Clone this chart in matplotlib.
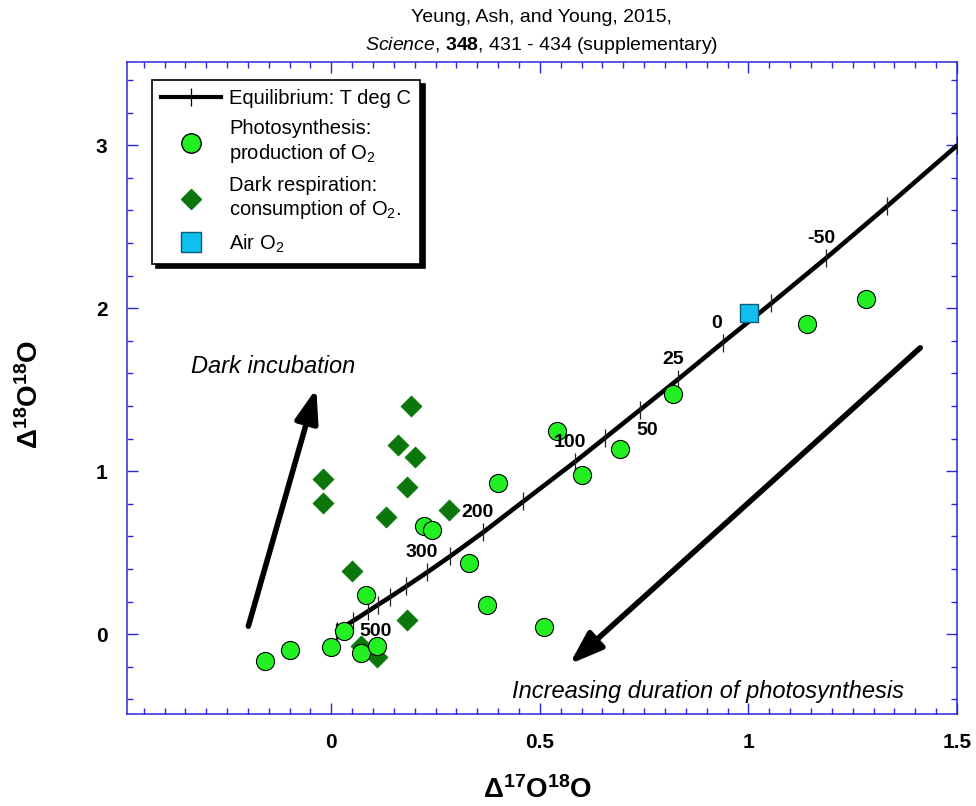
import numpy as np
import matplotlib.pyplot as plt
from matplotlib.lines import Line2D
from matplotlib.ticker import MultipleLocator, FuncFormatter

plt.rcParams['font.family'] = ['Liberation Sans', 'DejaVu Sans']
plt.rcParams['mathtext.fontset'] = 'custom'
plt.rcParams['mathtext.rm'] = 'Liberation Sans'
plt.rcParams['mathtext.it'] = 'Liberation Sans:italic'
plt.rcParams['mathtext.bf'] = 'Liberation Sans:bold'

# equilibrium curve, tick marks at these temperatures (deg C)
eq_temp = [1000, 800, 600, 500, 450, 400, 350, 300, 250, 200, 150, 100, 75, 50, 25, 0, -25, -50, -75, -100]
eq_d17 = [0.010, 0.014, 0.053, 0.089, 0.113, 0.141, 0.180, 0.230, 0.285, 0.364, 0.460, 0.585,
          0.657, 0.741, 0.832, 0.938, 1.055, 1.187, 1.333, 1.501]
eq_d18 = [0.014, 0.020, 0.083, 0.142, 0.182, 0.228, 0.294, 0.380, 0.478, 0.625, 0.814, 1.059,
          1.206, 1.378, 1.565, 1.788, 2.030, 2.309, 2.627, 3.000]
eq_labelled = [-50, 0, 25, 50, 100, 200, 300, 500]
eq_below = [50, 500]

# photosynthesis experiments
photo_d17 = [-0.158, -0.098, 0.000, 0.031, 0.070, 0.082, 0.110, 0.221, 0.242, 0.329,
             0.372, 0.400, 0.511, 0.542, 0.602, 0.691, 0.820, 1.141, 1.283]
photo_d18 = [-0.166, -0.098, -0.080, 0.018, -0.116, 0.238, -0.074, 0.661, 0.637, 0.435,
             0.178, 0.925, 0.043, 1.249, 0.974, 1.133, 1.476, 1.904, 2.057]

# dark respiration experiments
resp_d17 = [0.192, 0.160, 0.201, -0.020, 0.182, -0.020, 0.132, 0.281, 0.050, 0.182, 0.072, 0.110]
resp_d18 = [1.400, 1.163, 1.084, 0.955, 0.900, 0.802, 0.716, 0.759, 0.386, 0.086, -0.073, -0.141]

# air O2
air_d17 = [1.002]
air_d18 = [1.972]

# arrows (tail, head) and their captions
dark_arrow = [(-0.199, 0.049), (-0.036, 1.507)]
photo_arrow = [(1.412, 1.757), (0.571, -0.184)]
dark_text = (-0.139, 1.64)
photo_text = (0.904, -0.35)

BLUE = '#2a2ad8'
LIME = '#22f022'
DKGREEN = '#0b760b'
CYAN = '#10bff0'


def main() -> None:
    fig = plt.figure(figsize=(9.76, 8.06), dpi=100)
    ax = fig.add_axes([0.1301, 0.1141, 0.8504, 0.8089])

    ax.plot(eq_d17, eq_d18, color='black', lw=3.3, marker='|', markersize=13,
            markeredgewidth=0.9, markeredgecolor='#222222', solid_capstyle='butt', zorder=3)
    for t, x, y in zip(eq_temp, eq_d17, eq_d18):
        if t in eq_labelled:
            off = (5, -15) if t in eq_below else (-4, 14)
            ax.annotate(str(t), (x, y), xytext=off, textcoords='offset points',
                        ha='center', va='center', fontsize=14, fontweight='bold', zorder=5)

    ax.scatter(resp_d17, resp_d18, marker='D', s=115, color=DKGREEN, edgecolor=DKGREEN,
               linewidth=0.5, zorder=4)
    ax.scatter(photo_d17, photo_d18, marker='o', s=170, color=LIME, edgecolor='black',
               linewidth=0.8, zorder=4)
    ax.scatter(air_d17, air_d18, marker='s', s=170, color=CYAN, edgecolor='#0b5a78',
               linewidth=1.0, zorder=5)

    aprops = dict(arrowstyle='-|>,head_length=1.0,head_width=0.35', lw=4, color='black',
                  shrinkA=0, shrinkB=0, mutation_scale=20)
    ax.annotate('', xy=dark_arrow[1], xytext=dark_arrow[0], arrowprops=aprops)
    ax.annotate('', xy=photo_arrow[1], xytext=photo_arrow[0], arrowprops=aprops)
    ax.text(*dark_text, 'Dark incubation', style='italic', fontsize=17, ha='center', va='center')
    ax.text(*photo_text, 'Increasing duration of photosynthesis', style='italic', fontsize=17,
            ha='center', va='center')

    ax.set_xlim(-0.49, 1.5)
    ax.set_ylim(-0.49, 3.51)
    ax.xaxis.set_major_locator(MultipleLocator(0.5))
    ax.xaxis.set_minor_locator(MultipleLocator(0.05))
    ax.yaxis.set_major_locator(MultipleLocator(1))
    ax.yaxis.set_minor_locator(MultipleLocator(0.2))
    fmt = FuncFormatter(lambda v, p: '%g' % v)
    ax.xaxis.set_major_formatter(fmt)
    ax.yaxis.set_major_formatter(fmt)
    ax.tick_params(which='both', direction='in', top=True, right=True, color=BLUE, width=1)
    ax.tick_params(which='major', length=8)
    ax.tick_params(which='minor', length=4)
    ax.tick_params(axis='x', which='major', pad=14, labelsize=15)
    ax.tick_params(axis='y', which='major', pad=14, labelsize=15)
    for lab in ax.get_xticklabels() + ax.get_yticklabels():
        lab.set_fontweight('bold')
    for sp in ax.spines.values():
        sp.set_color(BLUE)
        sp.set_linewidth(1.1)

    ax.set_xlabel(r'$\mathbf{\Delta^{17}O^{18}O}$', fontsize=20)
    ax.xaxis.set_label_coords(0.495, -0.095)
    ax.set_ylabel(r'$\mathbf{\Delta^{18}O^{18}O}$', fontsize=20)
    ax.yaxis.set_label_coords(-0.1, 0.49)

    fig.text(0.5545, 1 - 18 / 806, 'Yeung, Ash, and Young, 2015,', ha='center', va='center', fontsize=14)
    fig.text(0.5545, 1 - 45 / 806, r'$\it{Science}$, $\bf{348}$, 431 - 434 (supplementary)',
             ha='center', va='center', fontsize=14)

    handles = [
        Line2D([], [], color='black', lw=3, marker='|', markersize=13, markeredgewidth=0.9),
        Line2D([], [], ls='none', marker='o', markersize=14, markerfacecolor=LIME, markeredgecolor='black'),
        Line2D([], [], ls='none', marker='D', markersize=10, markerfacecolor=DKGREEN, markeredgecolor=DKGREEN),
        Line2D([], [], ls='none', marker='s', markersize=14, markerfacecolor=CYAN, markeredgecolor='#0b5a78'),
    ]
    labels = ['Equilibrium: T deg C', 'Photosynthesis:\nproduction of O$_2$',
              'Dark respiration:\nconsumption of O$_2$.', 'Air O$_2$']
    leg = ax.legend(handles, labels, loc='upper left', bbox_to_anchor=(0.03, 0.972),
                    borderaxespad=0, fontsize=14.5, frameon=True, fancybox=False,
                    edgecolor='black', handlelength=3.0, handletextpad=0.4,
                    labelspacing=0.55, borderpad=0.45,
                    shadow={'ox': 3, 'oy': -3, 'color': 'black', 'alpha': 1})
    leg.get_frame().set_linewidth(1.2)

    fig.savefig('out.png', dpi=100)


if __name__ == '__main__':
    main()
